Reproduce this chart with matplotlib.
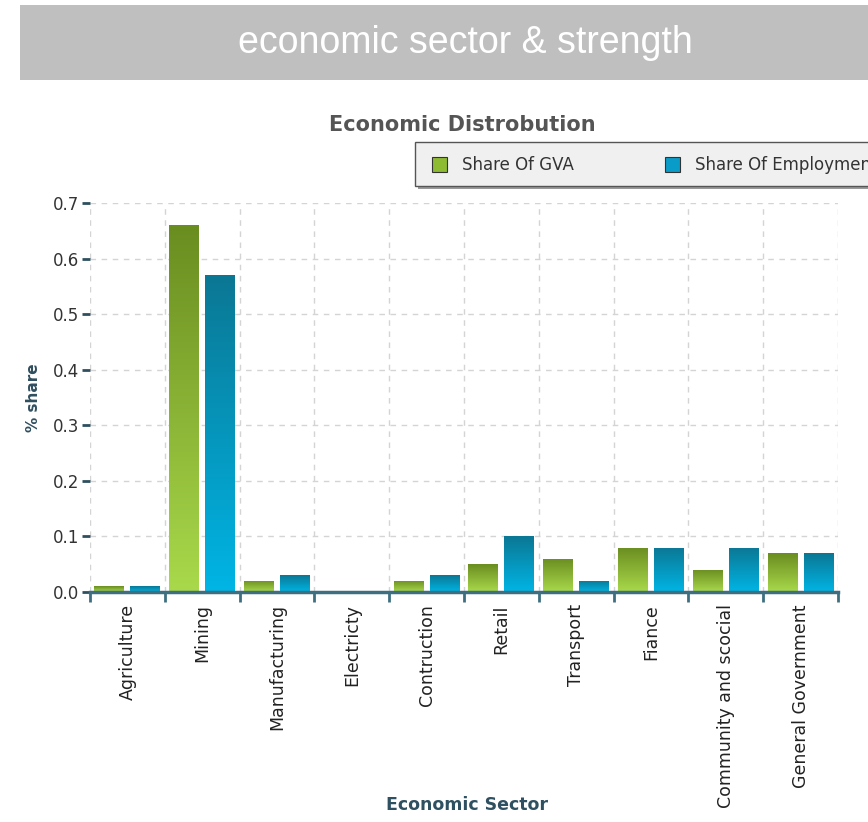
import numpy as np
import matplotlib
matplotlib.use("Agg")
import matplotlib.pyplot as plt
from matplotlib.colors import LinearSegmentedColormap
from matplotlib.patches import Rectangle

# Economic sectors and their shares
sectors = ["Agriculture", "Mining", "Manufacturing", "Electricty", "Contruction",
           "Retail", "Transport", "Fiance", "Community and scocial", "General Government"]
share_gva = [0.01, 0.66, 0.02, 0.0, 0.02, 0.05, 0.06, 0.08, 0.04, 0.07]
share_employment = [0.01, 0.57, 0.03, 0.0, 0.03, 0.10, 0.02, 0.08, 0.08, 0.07]
y_ticks = [0.0, 0.1, 0.2, 0.3, 0.4, 0.5, 0.6, 0.7]

W, H = 868, 822
fig = plt.figure(figsize=(W / 100, H / 100), dpi=100)
fig.patch.set_facecolor("white")

# Header band
fig.patches.append(Rectangle((20 / W, 1 - 80 / H), (W - 20) / W, 75 / H,
                             transform=fig.transFigure, facecolor="#bfbfbf",
                             edgecolor="none", zorder=0))
fig.text(465 / W, 1 - 43 / H, "economic sector & strength", color="white",
         fontsize=27, family="Liberation Sans", ha="center", va="center")

ax = fig.add_axes([90 / W, 1 - 592 / H, (838 - 90) / W, (592 - 203) / H])

x = np.arange(len(sectors))
bw = 0.4
off = 0.24

cmap_gva = LinearSegmentedColormap.from_list("gva", ["#a9d94b", "#6a8d20"])
cmap_emp = LinearSegmentedColormap.from_list("emp", ["#00b5e5", "#0b7794"])
grad = np.linspace(0, 1, 256).reshape(-1, 1)

bars_gva = ax.bar(x - off, share_gva, width=bw, facecolor="none", edgecolor="none", zorder=3)
bars_emp = ax.bar(x + off, share_employment, width=bw, facecolor="none", edgecolor="none", zorder=3)

for bars, cmap in ((bars_gva, cmap_gva), (bars_emp, cmap_emp)):
    for rect in bars:
        h = rect.get_height()
        if h <= 0:
            continue
        x0 = rect.get_x()
        im = ax.imshow(grad, extent=[x0, x0 + rect.get_width(), 0, h], origin="lower",
                       cmap=cmap, aspect="auto", zorder=3, interpolation="bilinear")
        im.set_clip_path(rect)

ax.set_xlim(-0.5, len(sectors) - 0.5)
ax.set_ylim(0, 0.7)
ax.set_aspect("auto")

# Grid: dashed, on category boundaries and y ticks
ax.set_yticks(y_ticks)
ax.set_yticklabels([f"{v:.1f}" for v in y_ticks])
ax.set_xticks(np.arange(-0.5, len(sectors), 1.0), minor=False)
ax.set_xticklabels([])
ax.grid(True, which="major", linestyle=(0, (4, 4)), color="#d4d4d4", linewidth=1, zorder=0)
ax.set_axisbelow(True)

for side in ("left", "right", "top"):
    ax.spines[side].set_visible(False)
ax.spines["bottom"].set_color("#3d6f80")
ax.spines["bottom"].set_linewidth(2.5)
ax.spines["bottom"].set_zorder(5)

ax.tick_params(axis="x", direction="out", length=7, width=2, color="#3d6f80")
ax.tick_params(axis="y", direction="out", length=6, width=2, color="#2f4f5f",
               labelsize=12, labelcolor="#333333", pad=2)

# Category labels, rotated under each group
for xi, name in zip(x, sectors):
    ax.text(xi, -0.022, name, rotation=90, ha="center", va="top", fontsize=12.5,
            color="#222222", family="DejaVu Sans")

ax.set_ylabel("% share", fontsize=11, fontweight="bold", color="#2f4f5f", labelpad=8)
fig.text(467 / W, 1 - 805 / H, "Economic Sector", fontsize=12.5, fontweight="bold",
         color="#2f5060", ha="center", va="center")
fig.text(462 / W, 1 - 125 / H, "Economic Distrobution", fontsize=15, fontweight="bold",
         color="#555555", ha="center", va="center")

# Legend box
fig.patches.append(Rectangle((418 / W, 1 - 189 / H), 460 / W, 44 / H,
                             transform=fig.transFigure, facecolor="#999999",
                             edgecolor="none", zorder=1))
fig.patches.append(Rectangle((415 / W, 1 - 186 / H), 460 / W, 44 / H,
                             transform=fig.transFigure, facecolor="#f0f0f0",
                             edgecolor="#555555", linewidth=1, zorder=2))
fig.patches.append(Rectangle((432 / W, 1 - 172 / H), 15 / W, 15 / H,
                             transform=fig.transFigure, facecolor="#8dbb32",
                             edgecolor="#333333", linewidth=0.8, zorder=3))
fig.text(462 / W, 1 - 165 / H, "Share Of GVA", fontsize=12, color="#333333",
         va="center", ha="left", zorder=4)
fig.patches.append(Rectangle((665 / W, 1 - 172 / H), 15 / W, 15 / H,
                             transform=fig.transFigure, facecolor="#0a9cc8",
                             edgecolor="#333333", linewidth=0.8, zorder=3))
fig.text(695 / W, 1 - 165 / H, "Share Of Employment", fontsize=12, color="#333333",
         va="center", ha="left", zorder=4)

fig.savefig("out.png", dpi=100)
